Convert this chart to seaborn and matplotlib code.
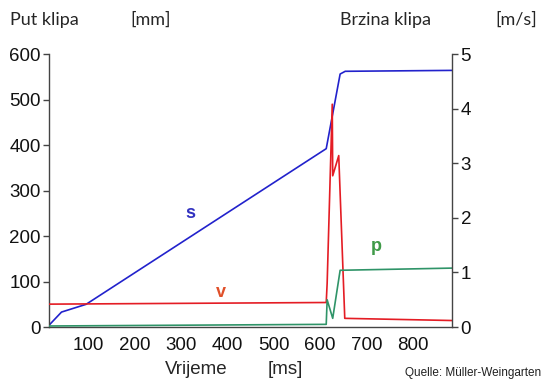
import matplotlib
matplotlib.use("Agg")
import pandas as pd
import matplotlib.pyplot as plt
import seaborn as sns

# Put klipa s [mm]
t_s = [15, 42, 95, 613, 643, 654, 885]
s_mm = [4, 33, 50, 392, 556, 562, 564]

# Brzina klipa v [m/s]
t_v = [15, 613, 615, 626, 627, 640, 653, 885]
v_ms = [0.42, 0.45, 0.8, 4.08, 2.77, 3.14, 0.16, 0.12]

# p
t_p = [15, 613, 615, 627, 643, 885]
p_val = [0.02, 0.05, 0.5, 0.16, 1.04, 1.08]

df_s = pd.DataFrame({"t": t_s, "s": s_mm})
df_v = pd.DataFrame({"t": t_v, "v": v_ms})
df_p = pd.DataFrame({"t": t_p, "p": p_val})

sns.set_style("white")
plt.rcParams["font.family"] = ["Liberation Sans", "DejaVu Sans"]

fig = plt.figure(figsize=(5.48, 3.83), dpi=100)
ax = fig.add_axes([0.0894, 0.146, 0.736, 0.713])
ax2 = ax.twinx()

sns.lineplot(data=df_s, x="t", y="s", ax=ax, color="#2222cc", lw=1.2)
sns.lineplot(data=df_v, x="t", y="v", ax=ax2, color="#e41c24", lw=1.2)
sns.lineplot(data=df_p, x="t", y="p", ax=ax2, color="#2f9468", lw=1.2)

ax.set_xlim(15, 885)
ax.set_ylim(0, 600)
ax2.set_ylim(0, 5)
ax.set_xticks([100, 200, 300, 400, 500, 600, 700, 800])
ax.set_yticks(range(0, 601, 100))
ax2.set_yticks(range(0, 6))

for a in (ax, ax2):
    a.set_xlabel("")
    a.set_ylabel("")
    a.spines["top"].set_visible(False)
    for sp in a.spines.values():
        sp.set_color("#444444")
        sp.set_linewidth(1.0)
    a.tick_params(direction="out", length=4, width=1, color="#444444",
                  labelsize=13.5, labelcolor="#111111", pad=2)
ax.tick_params(axis="x", length=5)
ax.spines["right"].set_visible(False)
ax2.spines["left"].set_visible(False)
ax2.spines["bottom"].set_visible(False)

# labels in the plot
ax.text(320, 250, "s", color="#3232c0", fontsize=13, fontweight="bold",
        ha="center", va="center")
ax.text(385, 75, "v", color="#e0502a", fontsize=13, fontweight="bold",
        ha="center", va="center")
ax.text(721, 176, "p", color="#3f9a48", fontsize=13, fontweight="bold",
        ha="center", va="center")

head = ["Lato", "DejaVu Sans"]
fig.text(10 / 548, 1 - 20 / 383, "Put klipa", fontsize=13, family=head, va="center")
fig.text(130 / 548, 1 - 20 / 383, "[mm]", fontsize=13, family=head, va="center")
fig.text(340 / 548, 1 - 20 / 383, "Brzina klipa", fontsize=13, family=head, va="center")
fig.text(495 / 548, 1 - 20 / 383, "[m/s]", fontsize=13, family=head, va="center")
fig.text(165 / 548, 1 - 370 / 383, "Vrijeme", fontsize=13.5, va="center")
fig.text(268 / 548, 1 - 370 / 383, "[ms]", fontsize=13.5, va="center")
fig.text(405 / 548, 1 - 373 / 383, "Quelle: Müller-Weingarten", fontsize=8.5,
         va="center", color="#222222")

fig.savefig("out.png", dpi=100)
